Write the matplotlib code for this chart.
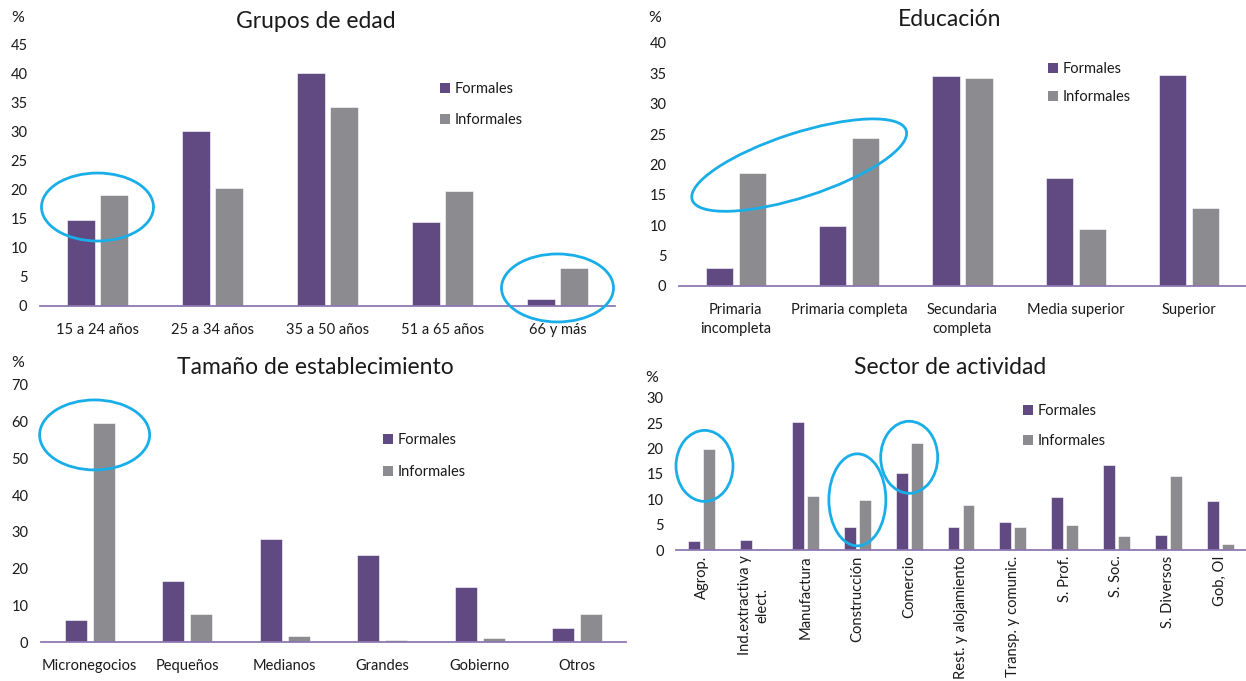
import matplotlib
matplotlib.use("Agg")
import matplotlib.pyplot as plt
import numpy as np
from matplotlib.patches import Patch, Ellipse
from matplotlib.transforms import IdentityTransform

plt.rcParams['font.family'] = ['Lato', 'DejaVu Sans']

# ---------------- data ----------------
edad_cats = ["15 a 24 años", "25 a 34 años", "35 a 50 años", "51 a 65 años", "66 y más"]
edad_formales = [14.8, 30.1, 40.0, 14.4, 1.2]
edad_informales = [19.1, 20.3, 34.2, 19.8, 6.5]

edu_cats = ["Primaria\nincompleta", "Primaria completa", "Secundaria\ncompleta", "Media superior", "Superior"]
edu_formales = [3.0, 9.9, 34.6, 17.8, 34.7]
edu_informales = [18.6, 24.3, 34.3, 9.4, 12.9]

tam_cats = ["Micronegocios", "Pequeños", "Medianos", "Grandes", "Gobierno", "Otros"]
tam_formales = [6.0, 16.6, 28.0, 23.7, 15.0, 3.7]
tam_informales = [59.7, 7.5, 1.7, 0.6, 1.2, 7.6]

sec_cats = ["Agrop.", "Ind.extractiva y\nelect.", "Manufactura", "Construcción", "Comercio",
            "Rest. y alojamiento", "Transp. y comunic.", "S. Prof.", "S. Soc.", "S. Diversos", "Gob, OI"]
sec_formales = [1.8, 2.0, 25.2, 4.5, 15.2, 4.6, 5.6, 10.4, 16.7, 3.0, 9.7]
sec_informales = [19.9, 0.2, 10.7, 9.9, 21.2, 8.8, 4.5, 4.9, 2.7, 14.6, 1.2]

series_labels = ["Formales", "Informales"]

# ---------------- style ----------------
PURPLE = "#614a82"
GRAY = "#8c8c90"
AXIS = "#8f78b0"
CIRCLE = "#1aaee8"
TXT = "#1a1a1a"

W, H = 1246, 681
fig = plt.figure(figsize=(W / 100, H / 100), dpi=100)


def px_axes(left, right, top, bottom):
    return fig.add_axes([left / W, 1 - bottom / H, (right - left) / W, (bottom - top) / H])


def panel(ax, cats, f, i, ymax, ystep, width, off, rot=False, xpad=10):
    x = np.arange(len(cats))
    ax.bar(x - off, f, width, color=PURPLE, edgecolor="white", linewidth=0.4, zorder=2)
    ax.bar(x + off, i, width, color=GRAY, edgecolor="white", linewidth=0.4, zorder=2)
    ax.set_xlim(-0.5, len(cats) - 0.5)
    ax.set_ylim(0, ymax)
    ax.set_yticks(np.arange(0, ymax + 0.1, ystep))
    ax.set_xticks(x)
    if rot:
        ax.set_xticklabels(cats, rotation=90, ha="center", va="top", multialignment="center",
                           fontsize=10.6, color=TXT, linespacing=1.25)
    else:
        ax.set_xticklabels(cats, fontsize=10.5, color=TXT, linespacing=1.45)
    for s in ["top", "right", "left"]:
        ax.spines[s].set_visible(False)
    ax.spines["bottom"].set_color(AXIS)
    ax.spines["bottom"].set_linewidth(1.3)
    ax.tick_params(axis="y", length=0, pad=9, labelsize=10.5, labelcolor=TXT)
    ax.tick_params(axis="x", length=0, pad=xpad, labelcolor=TXT)
    ax.patch.set_alpha(0)


def legend(ax, x_px, y_px, spacing):
    handles = [Patch(facecolor=PURPLE, edgecolor="none"), Patch(facecolor=GRAY, edgecolor="none")]
    ax.legend(handles, series_labels, loc="upper left", bbox_to_anchor=(x_px / W, 1 - y_px / H),
              bbox_transform=fig.transFigure, frameon=False, fontsize=10.5, handlelength=0.7,
              handleheight=0.7, handletextpad=0.3, labelspacing=spacing, borderpad=0,
              borderaxespad=0, labelcolor=TXT)


def ring(ax, xd, yd, w, h, angle=0):
    cx, cy = ax.transData.transform((xd, yd))
    e = Ellipse((cx, cy), w, h, angle=angle, transform=IdentityTransform(), fill=False,
                edgecolor=CIRCLE, linewidth=2.0, clip_on=False, zorder=5)
    ax.add_patch(e)


def title(ax, text, x_px, y_px):
    fig.text(x_px / W, 1 - y_px / H, text, ha="center", va="center", fontsize=16.5, color=TXT)


def pct(x_px, y_px):
    fig.text(x_px / W, 1 - y_px / H, "%", ha="center", va="center", fontsize=11.5, color=TXT)


# Panel 1: Grupos de edad
ax1 = px_axes(40, 615, 44, 306)
panel(ax1, edad_cats, edad_formales, edad_informales, 45, 5, 0.245, 0.145, xpad=12)
legend(ax1, 440, 82, 1.15)
title(ax1, "Grupos de edad", 316, 22)
pct(18, 18)

# Panel 2: Educación
ax2 = px_axes(679, 1246, 43, 286)
panel(ax2, edu_cats, edu_formales, edu_informales, 40, 5, 0.24, 0.145, xpad=12)
legend(ax2, 1048, 62, 0.98)
title(ax2, "Educación", 950, 19)
pct(655, 18)

# Panel 3: Tamaño de establecimiento
ax3 = px_axes(41, 626, 385, 642)
panel(ax3, tam_cats, tam_formales, tam_informales, 70, 10, 0.225, 0.142, xpad=12)
legend(ax3, 383, 433, 1.25)
title(ax3, "Tamaño de establecimiento", 315, 368)
pct(18, 363)

# Panel 4: Sector de actividad
ax4 = px_axes(676, 1246, 398, 550)
panel(ax4, sec_cats, sec_formales, sec_informales, 30, 5, 0.23, 0.145, rot=True, xpad=4)
legend(ax4, 1023, 404, 1.12)
title(ax4, "Sector de actividad", 950, 368)
pct(652, 378)

fig.canvas.draw()

# highlight rings (anchored to category / value positions, size in pixels)
ring(ax1, 0.0, 17.0, 112, 68)
ring(ax1, 4.0, 3.1, 112, 68)
ring(ax2, 0.56, 19.9, 225, 64, 18)
ring(ax3, 0.05, 56.4, 110, 70)
ring(ax4, 0.05, 16.6, 57, 71)
ring(ax4, 3.0, 9.9, 57, 92)
ring(ax4, 4.0, 18.3, 57, 72)

fig.savefig("out.png", dpi=100)
